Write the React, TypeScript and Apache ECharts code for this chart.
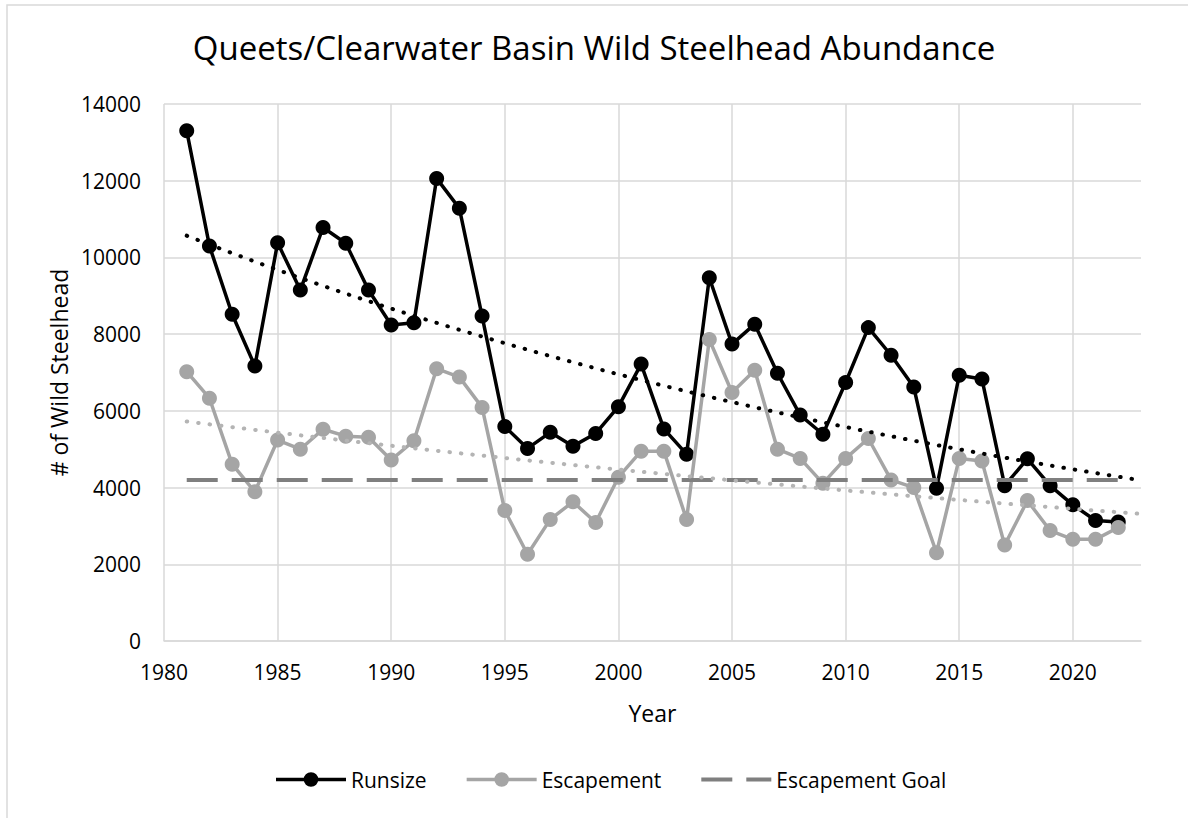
import React, { useEffect, useRef } from "react";
import * as echarts from "echarts";

const years = [
  1981, 1982, 1983, 1984, 1985, 1986, 1987, 1988, 1989, 1990,
  1991, 1992, 1993, 1994, 1995, 1996, 1997, 1998, 1999, 2000,
  2001, 2002, 2003, 2004, 2005, 2006, 2007, 2008, 2009, 2010,
  2011, 2012, 2013, 2014, 2015, 2016, 2017, 2018, 2019, 2020,
  2021, 2022,
];

const runsize = [
  13300, 10300, 8520, 7170, 10380, 9150, 10780, 10370, 9150, 8240,
  8300, 12060, 11280, 8470, 5590, 5020, 5440, 5080, 5410, 6110,
  7220, 5530, 4870, 9470, 7740, 8260, 6980, 5890, 5390, 6740,
  8170, 7450, 6620, 3980, 6930, 6830, 4050, 4750, 4050, 3550,
  3140, 3100,
];

const escapement = [
  7020, 6330, 4610, 3890, 5240, 5000, 5520, 5340, 5310, 4720,
  5220, 7100, 6880, 6090, 3400, 2260, 3170, 3630, 3090, 4270,
  4950, 4950, 3170, 7860, 6480, 7060, 5000, 4760, 4110, 4760,
  5280, 4200, 4000, 2300, 4760, 4690, 2500, 3660, 2880, 2650,
  2650, 2960,
];

const escapementGoalValue = 4200;

const seriesNames = ["Runsize", "Escapement", "Escapement Goal"];
const titleText = "Queets/Clearwater Basin Wild Steelhead Abundance";
const yAxisName = "# of Wild Steelhead";
const xAxisName = "Year";

// Exponential trendline (least squares on ln y), forecast forward one period
function expTrend(xs: number[], ys: number[], forward: number) {
  const n = xs.length;
  const ly = ys.map((v) => Math.log(v));
  const mx = xs.reduce((a, b) => a + b, 0) / n;
  const my = ly.reduce((a, b) => a + b, 0) / n;
  let sxy = 0;
  let sxx = 0;
  for (let i = 0; i < n; i++) {
    sxy += (xs[i] - mx) * (ly[i] - my);
    sxx += (xs[i] - mx) * (xs[i] - mx);
  }
  const b = sxy / sxx;
  const a = my - b * mx;
  const out: number[][] = [];
  const x0 = xs[0];
  const x1 = xs[n - 1] + forward;
  for (let x = x0; x <= x1 + 1e-9; x += 0.25) {
    out.push([x, Math.exp(a + b * x)]);
  }
  return out;
}

const FONT = "'Open Sans', 'Noto Sans', sans-serif";

// legend icons (70 x 17 box)
const ICON_MARKER =
  "path://M0,0h0.01v0.01h-0.01z M0,6.75h70v3.5h-70z M35,1.2a7.3,7.3 0 1,1 0,14.6a7.3,7.3 0 1,1 0,-14.6z M69.99,16.99h0.01v0.01h-0.01z";
const ICON_DASH =
  "path://M0,0h0.01v0.01h-0.01z M0,6.5h31v4h-31z M45,6.5h25v4h-25z M69.99,16.99h0.01v0.01h-0.01z";

export default function App() {
  const ref = useRef<HTMLDivElement>(null);

  useEffect(() => {
    if (!ref.current) return;
    const chart = echarts.init(ref.current, null, { renderer: "svg" });

    const runPairs = years.map((y, i) => [y, runsize[i]]);
    const escPairs = years.map((y, i) => [y, escapement[i]]);
    const goalPairs = years.map((y) => [y, escapementGoalValue]);
    const runTrend = expTrend(years, runsize, 1);
    const escTrend = expTrend(years, escapement, 1);

    const gridColor = "#d9d9d9";
    const colors = ["#000000", "#a5a5a5", "#7f7f7f"];
    const icons = [ICON_MARKER, ICON_MARKER, ICON_DASH];

    chart.setOption({
      animation: false,
      backgroundColor: "#ffffff",
      textStyle: { fontFamily: FONT },
      title: {
        text: titleText,
        left: "center",
        top: 26,
        textStyle: {
          fontFamily: FONT,
          fontSize: 33,
          fontWeight: "normal",
          color: "#000000",
        },
      },
      graphic: [
        {
          type: "rect",
          shape: { x: 7, y: 5, width: 1200, height: 840 },
          style: { fill: "none", stroke: gridColor, lineWidth: 1.5 },
          silent: true,
        },
      ],
      legend: {
        data: seriesNames.map((name, i) => ({
          name,
          icon: icons[i],
          itemStyle: { color: colors[i], borderWidth: 0 },
        })),
        left: 271,
        top: 764,
        itemWidth: 70,
        itemHeight: 17,
        itemGap: 40,
        textStyle: { fontFamily: FONT, fontSize: 21, color: "#000000" },
      },
      grid: {
        left: 164,
        right: 47,
        top: 104,
        bottom: 177,
      },
      xAxis: {
        type: "value",
        min: 1980,
        max: 2023,
        interval: 5,
        name: xAxisName,
        nameLocation: "middle",
        nameGap: 60,
        nameTextStyle: { fontFamily: FONT, fontSize: 23, color: "#000000" },
        axisLine: { show: true, lineStyle: { color: gridColor, width: 1.5 } },
        axisTick: { show: false },
        axisLabel: {
          showMaxLabel: false,
          margin: 20,
          fontFamily: FONT,
          fontSize: 21,
          color: "#000000",
          formatter: (v: number) => String(v),
        },
        splitLine: {
          show: true,
          showMaxLine: false,
          lineStyle: { color: gridColor, width: 1.5 },
        },
      },
      yAxis: {
        type: "value",
        min: 0,
        max: 14000,
        interval: 2000,
        name: yAxisName,
        nameLocation: "middle",
        nameGap: 90,
        nameTextStyle: { fontFamily: FONT, fontSize: 23, color: "#000000" },
        axisLine: { show: false },
        axisTick: { show: false },
        axisLabel: {
          margin: 23,
          fontFamily: FONT,
          fontSize: 21,
          color: "#000000",
          formatter: (v: number) => String(v),
        },
        splitLine: { show: true, lineStyle: { color: gridColor, width: 1.5 } },
      },
      series: [
        {
          name: "Runsize",
          type: "line",
          data: runPairs,
          symbol: "circle",
          symbolSize: 15,
          lineStyle: { color: colors[0], width: 3.5 },
          itemStyle: { color: colors[0] },
          z: 3,
        },
        {
          name: "Escapement",
          type: "line",
          data: escPairs,
          symbol: "circle",
          symbolSize: 15,
          lineStyle: { color: colors[1], width: 3.5 },
          itemStyle: { color: colors[1] },
          z: 4,
        },
        {
          name: "Escapement Goal",
          type: "line",
          data: goalPairs,
          symbol: "none",
          showSymbol: false,
          lineStyle: { color: colors[2], width: 4, type: [31, 14] },
          itemStyle: { color: colors[2] },
          z: 5,
        },
        {
          name: "Runsize trend",
          type: "line",
          data: runTrend,
          symbol: "none",
          showSymbol: false,
          lineStyle: { color: "#000000", width: 4, type: [0.5, 11], cap: "round" },
          z: 6,
        },
        {
          name: "Escapement trend",
          type: "line",
          data: escTrend,
          symbol: "none",
          showSymbol: false,
          lineStyle: { color: "#b4b4b4", width: 4, type: [0.5, 11], cap: "round" },
          z: 6,
        },
      ],
    });

    return () => {
      chart.dispose();
    };
  }, []);

  return (
    <div
      ref={ref}
      style={{ position: "absolute", left: 0, top: 0, width: 1188, height: 818 }}
    />
  );
}
